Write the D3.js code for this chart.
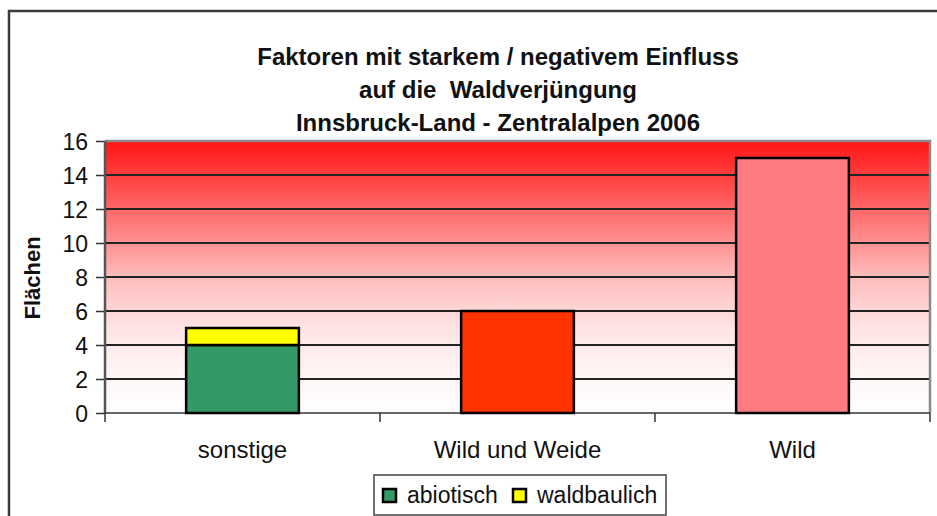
<!DOCTYPE html>
<meta charset="utf-8">
<style>
body { margin: 0; background: #fff; }
svg text { font-family: "Liberation Sans", Arial, sans-serif; fill: #111; }
#yAxis path { display: none; }
#yAxis line, #xAxis line { stroke: #333; stroke-width: 1.5px; }
#xAxis path { stroke: #333; stroke-width: 2px; }
</style>
<html>
<body>
<div id="my_dataviz"></div>
<script src="https://d3js.org/d3.v7.min.js"></script>
<script>
// data
var categories = ["sonstige", "Wild und Weide", "Wild"];
var abiotisch  = [4, 0, 0];
var waldbaulich = [1, 0, 0];
var wildWeide  = [0, 6, 0];
var wild       = [0, 0, 15];
var yTicks = [0, 2, 4, 6, 8, 10, 12, 14, 16];
var titleLines = ["Faktoren mit starkem / negativem Einfluss", "auf die  Waldverjüngung", "Innsbruck-Land - Zentralalpen 2006"];

var W = 937, H = 516;
var margin = {top: 141, right: 7, bottom: 103, left: 105},
    width = W - margin.left - margin.right,
    height = H - margin.top - margin.bottom;

var svg0 = d3.select("#my_dataviz").append("svg")
    .attr("width", W).attr("height", H);

// outer chart frame
svg0.append("path")
    .attr("d", "M9," + H + "V11H" + W)
    .attr("fill", "none").attr("stroke", "#3a3a3a").attr("stroke-width", 2.5);

// titles
svg0.append("g").selectAll("text")
  .data(titleLines).enter().append("text")
    .attr("x", 498)
    .attr("y", (d, i) => 65 + i * 33)
    .attr("text-anchor", "middle")
    .style("font-size", "24px")
    .style("font-weight", "bold")
    .style("white-space", "pre")
    .text(d => d);

var svg = svg0.append("g")
    .attr("transform", "translate(" + margin.left + "," + margin.top + ")");

// background gradient red -> white
var grad = svg0.append("defs").append("linearGradient")
    .attr("id", "bg").attr("x1", 0).attr("y1", 0).attr("x2", 0).attr("y2", 1);
[[0, "#ff1414"], [0.25, "#ff6868"], [0.5, "#ffbcbc"], [0.69, "#ffe4e4"], [0.87, "#fff6f6"], [1, "#ffffff"]]
  .forEach(s => grad.append("stop").attr("offset", s[0]).attr("stop-color", s[1]));

svg.append("rect").attr("width", width).attr("height", height).attr("fill", "url(#bg)");

var x = d3.scaleBand().domain(categories).range([0, width])
    .paddingInner(0.59).paddingOuter(0.295);
var xb = d3.scaleBand().domain(categories).range([0, width]);
var y = d3.scaleLinear().domain([0, 16]).range([height, 0]);

// gridlines
svg.selectAll("grid").data(yTicks.filter(t => t > 0 && t < 16)).enter().append("line")
    .attr("x1", 0).attr("x2", width)
    .attr("y1", d => y(d)).attr("y2", d => y(d))
    .attr("stroke", "#222").attr("stroke-width", 2);

// plot border top/right
svg.append("path")
    .attr("d", "M0," + y(16) + "H" + width + "V" + height)
    .attr("fill", "none").attr("stroke", "#8a8a8a").attr("stroke-width", 2.5);

// y axis
svg.append("g").attr("id", "yAxis")
    .call(d3.axisLeft(y).tickValues(yTicks).tickSize(9).tickPadding(8))
    .selectAll("text").style("font-size", "23px").attr("dy", "0.36em");
svg.append("line").attr("x1", 0).attr("x2", 0).attr("y1", 0).attr("y2", height)
    .attr("stroke", "#555").attr("stroke-width", 2.5);

// x axis: ticks on category boundaries
var xAxis = svg.append("g").attr("id", "xAxis").attr("transform", "translate(0," + height + ")");
xAxis.append("line").attr("x1", 0).attr("x2", width).attr("y1", 0).attr("y2", 0)
    .attr("stroke", "#333").attr("stroke-width", 2.5);
xAxis.selectAll("tick").data(categories.concat([null])).enter().append("line")
    .attr("x1", (d, i) => i < categories.length ? xb(d) : width)
    .attr("x2", (d, i) => i < categories.length ? xb(d) : width)
    .attr("y1", 0).attr("y2", 9)
    .attr("stroke", "#333").attr("stroke-width", 2);
xAxis.selectAll("lbl").data(categories).enter().append("text")
    .attr("x", d => x(d) + x.bandwidth() / 2)
    .attr("y", 45)
    .attr("text-anchor", "middle")
    .style("font-size", "24px")
    .text(d => d);

// bars
function bars(vals, base, color) {
  svg.append("g").selectAll("rect")
    .data(categories.map((c, i) => ({c: c, v: vals[i], b: base ? base[i] : 0})).filter(d => d.v > 0))
    .enter().append("rect")
      .attr("x", d => x(d.c))
      .attr("width", x.bandwidth())
      .attr("y", d => y(d.b + d.v))
      .attr("height", d => y(d.b) - y(d.b + d.v))
      .attr("fill", color)
      .attr("stroke", "#000").attr("stroke-width", 2.5);
}
bars(abiotisch, null, "#339966");
bars(waldbaulich, abiotisch, "#ffff00");
bars(wildWeide, null, "#ff3300");
bars(wild, null, "#ff7c80");

// y label
svg0.append("text")
    .attr("transform", "translate(40,278) rotate(-90)")
    .attr("text-anchor", "middle")
    .style("font-size", "22px").style("font-weight", "bold")
    .text("Flächen");

// legend
var leg = svg0.append("g");
leg.append("rect").attr("x", 374).attr("y", 475).attr("width", 292).attr("height", 40)
    .attr("fill", "#fff").attr("stroke", "#444").attr("stroke-width", 1.5);
var legItems = [{name: "abiotisch", color: "#339966", x: 383}, {name: "waldbaulich", color: "#ffff00", x: 513}];
legItems.forEach(function(d) {
  leg.append("rect").attr("x", d.x).attr("y", 489).attr("width", 13).attr("height", 13)
      .attr("fill", d.color).attr("stroke", "#000").attr("stroke-width", 2.5);
  leg.append("text").attr("x", d.x + 24).attr("y", 503)
      .style("font-size", "23px").text(d.name);
});
</script>
</body>
</html>
